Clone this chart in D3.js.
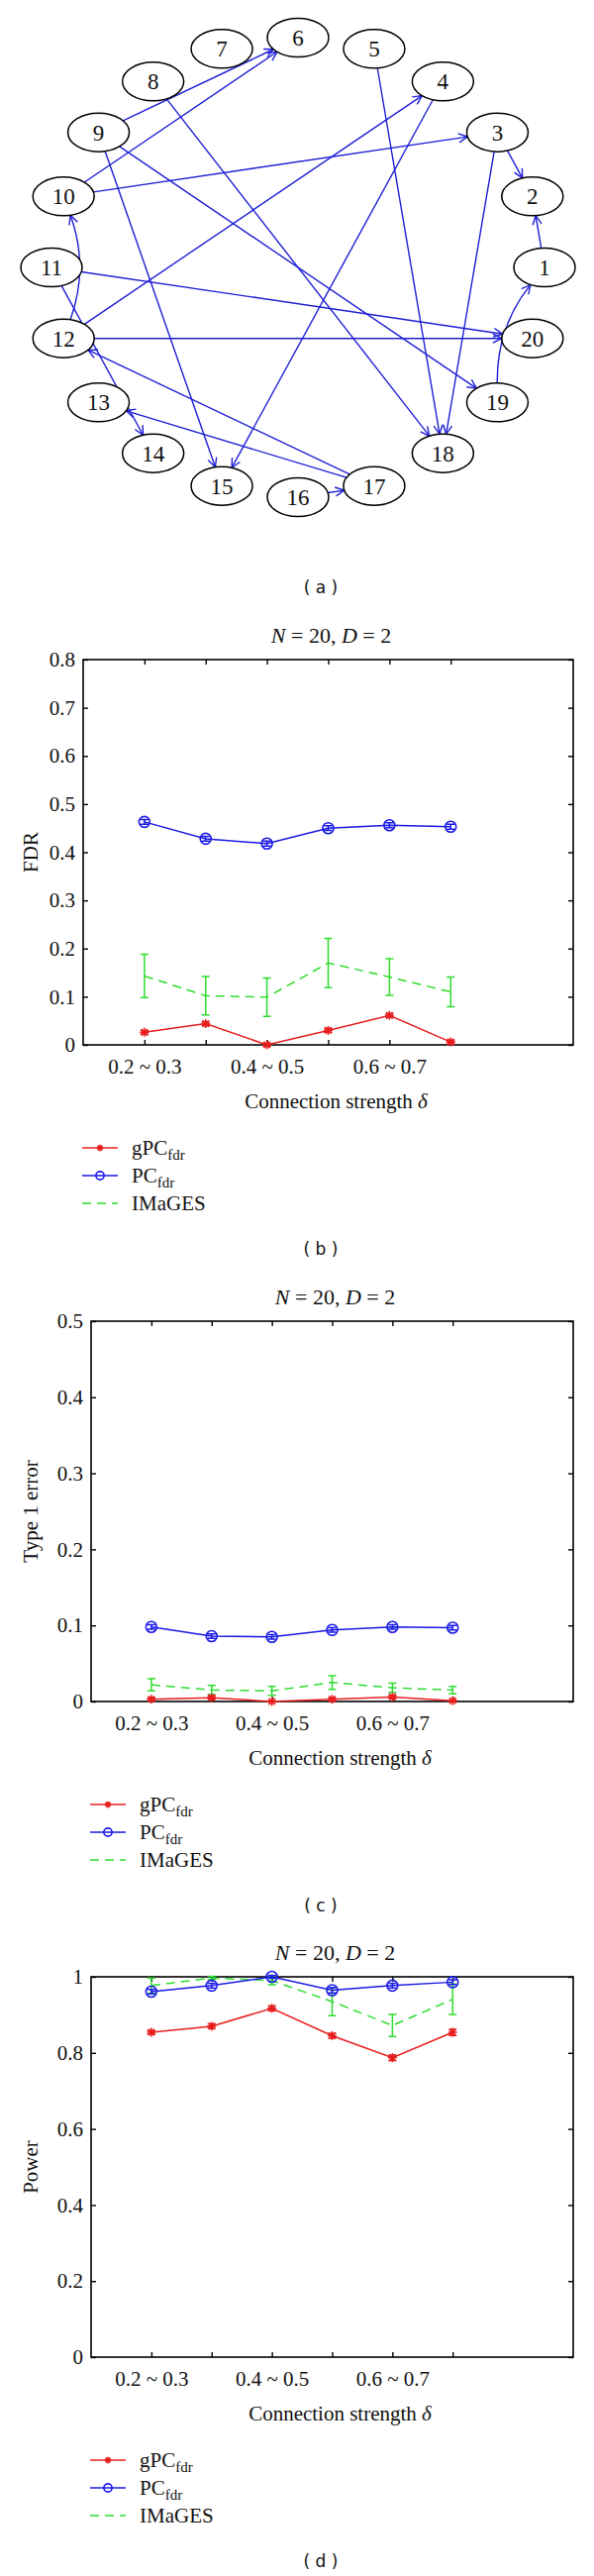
<!DOCTYPE html>
<html><head><meta charset="utf-8">
<script src="https://cdn.jsdelivr.net/npm/d3@7"></script>
<style>body{margin:0;background:#fff} svg{display:block}</style>
</head><body>
<svg id="fig" width="600" height="2601"></svg>
<script>
// ---------------- data ----------------
const nodeIds = d3.range(1, 21);
const edges = [[9,6],[10,6],[8,18],[5,18],[3,18],[4,15],[9,15],[12,4],[10,3],[3,2],[1,2],[9,19],[11,20],[12,20],[11,14],[17,12],[17,13],[16,17],[12,10],[19,1]];
const curvedEdges = [[12,10],[19,1]];

const strengthLabels = ["0.2 ~ 0.3", "", "0.4 ~ 0.5", "", "0.6 ~ 0.7", ""];

const fdrTicks = ["0","0.1","0.2","0.3","0.4","0.5","0.6","0.7","0.8"];
const fdrGPC    = [0.026, 0.044, 0.000, 0.030, 0.061, 0.006];
const fdrGPCErr = [0.004, 0.004, 0.003, 0.004, 0.004, 0.004];
const fdrPC     = [0.463, 0.428, 0.418, 0.450, 0.456, 0.453];
const fdrPCErr  = [0.005, 0.005, 0.005, 0.005, 0.005, 0.005];
const fdrIM     = [0.143, 0.102, 0.099, 0.170, 0.141, 0.110];
const fdrIMErr  = [0.045, 0.040, 0.040, 0.051, 0.038, 0.031];

const t1Ticks = ["0","0.1","0.2","0.3","0.4","0.5"];
const t1GPC    = [0.003, 0.005, 0.000, 0.003, 0.006, 0.001];
const t1GPCErr = [0.002, 0.002, 0.001, 0.002, 0.002, 0.001];
const t1PC     = [0.098, 0.086, 0.085, 0.094, 0.098, 0.097];
const t1PCErr  = [0.003, 0.003, 0.003, 0.003, 0.003, 0.003];
const t1IM     = [0.022, 0.015, 0.014, 0.025, 0.018, 0.015];
const t1IMErr  = [0.008, 0.006, 0.006, 0.009, 0.006, 0.005];

const powTicks = ["0","0.2","0.4","0.6","0.8","1"];
const powGPC    = [0.854, 0.870, 0.917, 0.845, 0.787, 0.854];
const powGPCErr = [0.005, 0.006, 0.006, 0.006, 0.007, 0.008];
const powPC     = [0.961, 0.977, 1.000, 0.965, 0.977, 0.986];
const powPCErr  = [0.006, 0.006, 0.004, 0.007, 0.006, 0.006];
const powIM     = [0.977, 0.997, 0.990, 0.935, 0.872, 0.941];
const powIMErr  = [0.020, 0.004, 0.011, 0.037, 0.029, 0.040];

// ---------------- styles ----------------
const SERIF = "'Liberation Serif','Times New Roman',serif";
const SANS = "'DejaVu Sans',Verdana,sans-serif";
const RED = "#e81e1e", BLUE = "#1a1ae6", GREEN = "#2edc2e", EDGE = "#1f1fd6";

const svg = d3.select("#fig");

// ---------------- (a) graph ----------------
const gcx = 301, gcy = 270, grx = 249, gry = 232, nrx = 31, nry = 19.5;
const ang = d3.scaleLinear().domain([1, 21]).range([0, 2 * Math.PI]);
const pos = {};
nodeIds.forEach(i => { pos[i] = [gcx + grx * Math.cos(ang(i)), gcy - gry * Math.sin(ang(i))]; });

const defs = svg.append("defs");
defs.append("marker").attr("id", "arr")
  .attr("viewBox", "-11 -6 12 12").attr("refX", 0).attr("refY", 0)
  .attr("markerWidth", 12).attr("markerHeight", 12)
  .attr("markerUnits", "userSpaceOnUse").attr("orient", "auto")
  .append("path").attr("d", "M-9,-4.5L0,0L-9,4.5")
  .attr("fill", "none").attr("stroke", EDGE).attr("stroke-width", 1.4);

function bnd(p, dx, dy) {
  const k = 1 / Math.sqrt((dx / nrx) ** 2 + (dy / nry) ** 2);
  return [p[0] + dx * k, p[1] + dy * k];
}
const isCurved = (a, b) => curvedEdges.some(e => e[0] === a && e[1] === b);

const gA = svg.append("g");
edges.forEach(([a, b]) => {
  const s = pos[a], t = pos[b];
  let d;
  if (isCurved(a, b)) {
    const mx = (s[0] + t[0]) / 2, my = (s[1] + t[1]) / 2;
    let nx = -(t[1] - s[1]), ny = (t[0] - s[0]);
    const nl = Math.hypot(nx, ny); nx /= nl; ny /= nl;
    if (nx * (gcx - mx) + ny * (gcy - my) < 0) { nx = -nx; ny = -ny; }
    const c = [mx + nx * 26, my + ny * 26];
    const p0 = bnd(s, c[0] - s[0], c[1] - s[1]);
    const p1 = bnd(t, c[0] - t[0], c[1] - t[1]);
    d = `M${p0[0]},${p0[1]}Q${c[0]},${c[1]} ${p1[0]},${p1[1]}`;
  } else {
    const dx = t[0] - s[0], dy = t[1] - s[1];
    const p0 = bnd(s, dx, dy), p1 = bnd(t, -dx, -dy);
    d = `M${p0[0]},${p0[1]}L${p1[0]},${p1[1]}`;
  }
  gA.append("path").attr("d", d).attr("fill", "none")
    .attr("stroke", EDGE).attr("stroke-width", 1.4).attr("marker-end", "url(#arr)");
});
const nodeG = gA.selectAll("g.node").data(nodeIds).join("g")
  .attr("transform", d => `translate(${pos[d][0]},${pos[d][1]})`);
nodeG.append("ellipse").attr("rx", nrx).attr("ry", nry)
  .attr("fill", "#fff").attr("stroke", "#000").attr("stroke-width", 1.5);
nodeG.append("text").text(d => d).attr("text-anchor", "middle").attr("dy", "0.35em")
  .attr("font-family", SERIF).attr("font-size", 23).attr("fill", "#111");

function caption(txt, cy) {
  svg.append("text").attr("x", 324).attr("y", cy).attr("text-anchor", "middle")
    .attr("dominant-baseline", "central")
    .attr("font-family", SANS).attr("font-size", 17).attr("fill", "#111").text(txt);
}
caption("( a )", 593);

// ---------------- plots ----------------
function plot(cfg) {
  const x = d3.scaleLinear().domain([0, 8]).range([cfg.left, cfg.right]);
  const yVals = cfg.ticks.map(Number);
  const y = d3.scaleLinear().domain([0, d3.max(yVals)]).range([cfg.bottom, cfg.top]);
  const g = svg.append("g");
  const cx = (cfg.left + cfg.right) / 2;

  const tt = g.append("text").attr("x", cx + 3).attr("y", cfg.top - 17).attr("text-anchor", "middle")
    .attr("font-family", SERIF).attr("font-size", 22).attr("fill", "#111");
  tt.append("tspan").attr("font-style", "italic").text("N");
  tt.append("tspan").text(" = 20, ");
  tt.append("tspan").attr("font-style", "italic").text("D");
  tt.append("tspan").text(" = 2");

  const xPos = d3.range(1, strengthLabels.length + 1);
  const styleAxis = sel => {
    sel.select(".domain").remove();
    sel.selectAll(".tick line").attr("stroke", "#000").attr("stroke-width", 1.4);
    sel.selectAll("text").attr("font-family", SERIF).attr("font-size", 21).attr("fill", "#111");
  };
  g.append("g").attr("transform", `translate(0,${cfg.bottom})`)
    .call(d3.axisBottom(x).tickValues(xPos).tickFormat((d, i) => strengthLabels[i])
      .tickSizeInner(-5).tickSizeOuter(0).tickPadding(14)).call(styleAxis);
  g.append("g").attr("transform", `translate(0,${cfg.top})`)
    .call(d3.axisTop(x).tickValues(xPos).tickFormat("").tickSizeInner(-5).tickSizeOuter(0)).call(styleAxis);
  g.append("g").attr("transform", `translate(${cfg.left},0)`)
    .call(d3.axisLeft(y).tickValues(yVals).tickFormat((d, i) => cfg.ticks[i])
      .tickSizeInner(-5).tickSizeOuter(0).tickPadding(8)).call(styleAxis);
  g.append("g").attr("transform", `translate(${cfg.right},0)`)
    .call(d3.axisRight(y).tickValues(yVals).tickFormat("").tickSizeInner(-5).tickSizeOuter(0)).call(styleAxis);
  g.append("rect").attr("x", cfg.left).attr("y", cfg.top)
    .attr("width", cfg.right - cfg.left).attr("height", cfg.bottom - cfg.top)
    .attr("fill", "none").attr("stroke", "#000").attr("stroke-width", 1.6);

  g.append("text").attr("transform", `translate(31,${(cfg.top + cfg.bottom) / 2}) rotate(-90)`)
    .attr("text-anchor", "middle").attr("dominant-baseline", "central")
    .attr("font-family", SERIF).attr("font-size", 21).attr("fill", "#111").text(cfg.ylabel);
  const xl = g.append("text").attr("x", cx + 8).attr("y", cfg.bottom + 64).attr("text-anchor", "middle")
    .attr("font-family", SERIF).attr("font-size", 21).attr("fill", "#111");
  xl.append("tspan").text("Connection strength ");
  xl.append("tspan").attr("font-style", "italic").text("δ");

  const line = d3.line().x((d, i) => x(i + 1)).y(d => y(d));
  const series = [
    { v: cfg.im, e: cfg.imErr, c: GREEN, dash: "9,6", m: null },
    { v: cfg.pc, e: cfg.pcErr, c: BLUE, dash: null, m: "circle" },
    { v: cfg.gpc, e: cfg.gpcErr, c: RED, dash: null, m: "star" }
  ];
  series.forEach(s => {
    g.append("path").attr("d", line(s.v)).attr("fill", "none").attr("stroke", s.c)
      .attr("stroke-width", 1.5).attr("stroke-dasharray", s.dash);
    s.v.forEach((v, i) => {
      const px = x(i + 1), y0 = y(v - s.e[i]), y1 = y(v + s.e[i]);
      g.append("path").attr("d", `M${px},${y0}L${px},${y1}M${px - 4},${y0}L${px + 4},${y0}M${px - 4},${y1}L${px + 4},${y1}`)
        .attr("fill", "none").attr("stroke", s.c).attr("stroke-width", 1.5);
      drawMarker(g, s.m, px, y(v), s.c, 1);
    });
  });

  const names = [["gPC", "fdr", RED, null, "star"], ["PC", "fdr", BLUE, null, "circle"], ["IMaGES", "", GREEN, "9,6", null]];
  names.forEach((n, k) => {
    const ly = cfg.bottom + 104 + k * 28;
    g.append("line").attr("x1", cfg.left - 1).attr("x2", cfg.left + 35).attr("y1", ly).attr("y2", ly)
      .attr("stroke", n[2]).attr("stroke-width", 1.6).attr("stroke-dasharray", n[3]);
    drawMarker(g, n[4], cfg.left + 17, ly, n[2], 0.75);
    const t = g.append("text").attr("x", cfg.left + 49).attr("y", ly + 7)
      .attr("font-family", SERIF).attr("font-size", 21).attr("fill", "#111");
    t.append("tspan").text(n[0]);
    if (n[1]) t.append("tspan").attr("font-size", 15).attr("dy", 5).text(n[1]);
  });
  caption(cfg.cap, cfg.bottom + 206);
}

function drawMarker(g, type, px, py, c, s) {
  if (type === "circle") {
    g.append("circle").attr("cx", px).attr("cy", py).attr("r", 5.5 * s)
      .attr("fill", "none").attr("stroke", c).attr("stroke-width", 1.6);
  } else if (type === "star") {
    const r = 4.5 * s, q = r * 0.72;
    g.append("path").attr("d",
      `M${px - r},${py}L${px + r},${py}M${px},${py - r}L${px},${py + r}M${px - q},${py - q}L${px + q},${py + q}M${px - q},${py + q}L${px + q},${py - q}`)
      .attr("stroke", c).attr("stroke-width", 1.6);
  }
}

plot({ left: 84, right: 579, top: 666, bottom: 1055, ticks: fdrTicks, ylabel: "FDR", cap: "( b )",
  gpc: fdrGPC, gpcErr: fdrGPCErr, pc: fdrPC, pcErr: fdrPCErr, im: fdrIM, imErr: fdrIMErr });
plot({ left: 92, right: 579, top: 1334, bottom: 1718, ticks: t1Ticks, ylabel: "Type 1 error", cap: "( c )",
  gpc: t1GPC, gpcErr: t1GPCErr, pc: t1PC, pcErr: t1PCErr, im: t1IM, imErr: t1IMErr });
plot({ left: 92, right: 579, top: 1996, bottom: 2380, ticks: powTicks, ylabel: "Power", cap: "( d )",
  gpc: powGPC, gpcErr: powGPCErr, pc: powPC, pcErr: powPCErr, im: powIM, imErr: powIMErr });
</script>
</body></html>
